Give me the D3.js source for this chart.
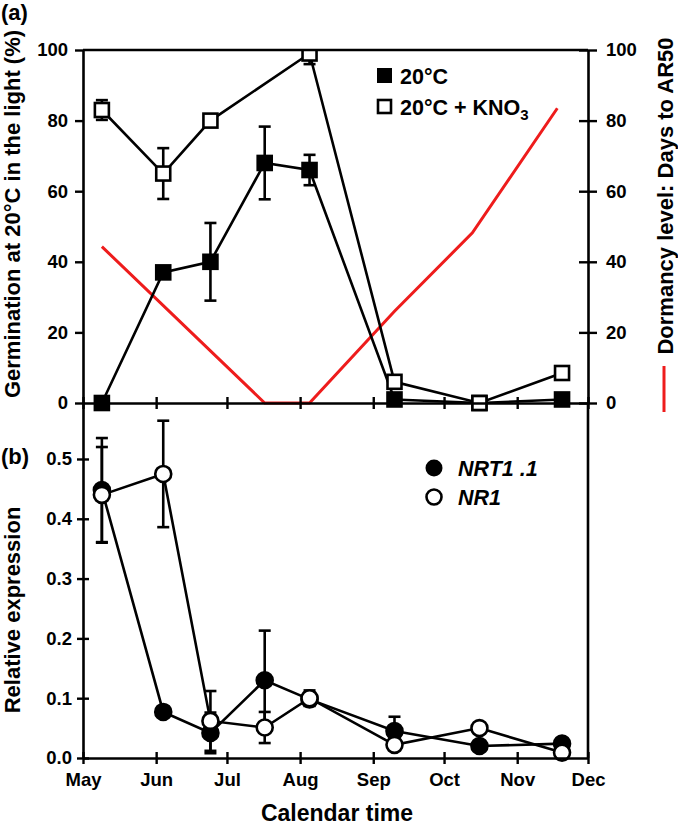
<!DOCTYPE html>
<html>
<head>
<meta charset="utf-8">
<title>Germination and dormancy</title>
<script src="https://cdn.jsdelivr.net/npm/d3@7"></script>
<style>
  body { margin: 0; background: #fff; }
  text { font-family: "Liberation Sans", Arial, sans-serif; font-weight: bold; fill: #000; }
</style>
</head>
<body>
<div id="chart"></div>
<script>
// sampling dates (x positions) and values
var dates = ["2010-05-09", "2010-06-04", "2010-06-24", "2010-07-17", "2010-08-05", "2010-09-10", "2010-10-16", "2010-11-20"];
var monthTicks = ["2010-05-01", "2010-06-01", "2010-07-01", "2010-08-01", "2010-09-01", "2010-10-01", "2010-11-01", "2010-12-01"];

// (a) germination %
var germ20 = [0, 37, 40, 68, 66, 1, 0, 1];
var germ20Err = [0, 0, 11, 10.3, 4.3, 0, 0, 0];
var kno3Dates = ["2010-05-09", "2010-06-04", "2010-06-24", "2010-08-05", "2010-09-10", "2010-10-16", "2010-11-20"];
var germKNO3 = [83, 65, 80, 99, 6, 0, 8.5];
var germKNO3Err = [2.8, 7.2, 0, 3, 0, 0, 0];

// dormancy level (days to AR50), right axis
var dormDates = ["2010-05-09", "2010-07-17", "2010-08-05", "2010-09-10", "2010-10-13", "2010-11-18"];
var dormDays = [44.3, 0, 0, 26, 48.2, 83.5];

// (b) relative expression
var nrt = [0.448, 0.077, 0.042, 0.13, 0.098, 0.045, 0.02, 0.024];
var nrtErr = [0.087, 0, 0.034, 0.083, 0.01, 0.024, 0, 0];
var nr1 = [0.44, 0.475, 0.062, 0.051, 0.1, 0.022, 0.05, 0.009];
var nr1Err = [0.08, 0.089, 0.05, 0.026, 0.013, 0, 0.008, 0];

var parse = d3.timeParse("%Y-%m-%d");
var W = 678, H = 825;
var L = 83, R = 588, topA = 50, midY = 403, botB = 758;
var SW = 2.6;

var svg = d3.select("#chart").append("svg").attr("width", W).attr("height", H);

var x = d3.scaleTime().domain([parse("2010-05-01"), parse("2010-12-01")]).range([L, R]);
var yA = d3.scaleLinear().domain([0, 100]).range([midY, topA]);
var yB = d3.scaleLinear().domain([0, 0.5936]).range([botB, midY]);

function zip(ds, vs, es) {
  return ds.map(function(d, i) { return {date: parse(d), v: vs[i], e: es ? es[i] : 0}; });
}

svg.append("clipPath").attr("id", "clipA").append("rect")
  .attr("x", L - 20).attr("y", topA).attr("width", R - L + 40).attr("height", midY - topA + 20);

// ---------- panel (a) ----------
var gA = svg.append("g").attr("clip-path", "url(#clipA)");

gA.append("path")
  .datum(zip(dormDates, dormDays))
  .attr("fill", "none").attr("stroke", "#ee1c1c").attr("stroke-width", 3)
  .attr("d", d3.line().x(function(d) { return x(d.date); }).y(function(d) { return yA(d.v); }));

function series(g, data, y, filled, shape) {
  var line = d3.line().x(function(d) { return x(d.date); }).y(function(d) { return y(d.v); });
  g.append("path").datum(data).attr("fill", "none").attr("stroke", "#000").attr("stroke-width", SW).attr("d", line);
  var eb = g.append("g").selectAll("g").data(data.filter(function(d) { return d.e > 0; })).enter().append("g");
  eb.append("line")
    .attr("x1", function(d) { return x(d.date); }).attr("x2", function(d) { return x(d.date); })
    .attr("y1", function(d) { return y(d.v - d.e); }).attr("y2", function(d) { return y(d.v + d.e); })
    .attr("stroke", "#000").attr("stroke-width", SW);
  [-1, 1].forEach(function(s) {
    eb.append("line")
      .attr("x1", function(d) { return x(d.date) - 6; }).attr("x2", function(d) { return x(d.date) + 6; })
      .attr("y1", function(d) { return y(d.v + s * d.e); }).attr("y2", function(d) { return y(d.v + s * d.e); })
      .attr("stroke", "#000").attr("stroke-width", SW);
  });
  var m = g.append("g").selectAll(".m").data(data).enter();
  if (shape == "square") {
    m.append("rect")
      .attr("x", function(d) { return x(d.date) - 7; }).attr("y", function(d) { return y(d.v) - 7; })
      .attr("width", 14).attr("height", 14)
      .attr("fill", filled ? "#000" : "#fff").attr("stroke", "#000").attr("stroke-width", SW);
  } else {
    m.append("circle")
      .attr("cx", function(d) { return x(d.date); }).attr("cy", function(d) { return y(d.v); })
      .attr("r", 8)
      .attr("fill", filled ? "#000" : "#fff").attr("stroke", "#000").attr("stroke-width", SW);
  }
}

series(gA, zip(dates, germ20, germ20Err), yA, true, "square");
series(gA, zip(kno3Dates, germKNO3, germKNO3Err), yA, false, "square");

// ---------- panel (b) ----------
var gB = svg.append("g");
series(gB, zip(dates, nrt, nrtErr), yB, true, "circle");
series(gB, zip(dates, nr1, nr1Err), yB, false, "circle");

// ---------- axes ----------
function styleAxis(g) {
  g.selectAll("path").attr("stroke", "#000").attr("stroke-width", SW);
  g.selectAll("line").attr("stroke", "#000").attr("stroke-width", 2.4);
  g.selectAll("text").attr("font-size", 18.5).attr("font-family", "Liberation Sans, Arial, sans-serif").attr("font-weight", "bold").attr("fill", "#000");
}

var axA = svg.append("g").attr("transform", "translate(" + L + ",0)")
  .call(d3.axisLeft(yA).tickValues([0, 20, 40, 60, 80, 100]).tickSizeInner(8).tickSizeOuter(0).tickPadding(7));
styleAxis(axA);

var axAR = svg.append("g").attr("transform", "translate(" + R + ",0)")
  .call(d3.axisRight(yA).tickValues([0, 20, 40, 60, 80, 100]).tickSizeInner(9).tickSizeOuter(0).tickPadding(9));
styleAxis(axAR);
axAR.selectAll(".tick line").attr("x1", -9);

var months = monthTicks.map(parse);
var axAX = svg.append("g").attr("transform", "translate(0," + midY + ")")
  .call(d3.axisBottom(x).tickValues(months).tickFormat("").tickSizeInner(6).tickSizeOuter(0));
styleAxis(axAX);
axAX.selectAll(".tick line").attr("y1", -6);

svg.append("line").attr("x1", L).attr("x2", R).attr("y1", topA).attr("y2", topA)
  .attr("stroke", "#000").attr("stroke-width", SW);

var axB = svg.append("g").attr("transform", "translate(" + L + ",0)")
  .call(d3.axisLeft(yB).tickValues([0, 0.1, 0.2, 0.3, 0.4, 0.5]).tickFormat(d3.format(".1f")).tickSizeInner(6).tickSizeOuter(0).tickPadding(5));
styleAxis(axB);
axB.selectAll(".tick line").attr("x1", 6).attr("x2", -6);

var axBX = svg.append("g").attr("transform", "translate(0," + botB + ")")
  .call(d3.axisBottom(x).tickValues(months).tickFormat(d3.timeFormat("%b")).tickSizeInner(6).tickSizeOuter(0).tickPadding(9));
styleAxis(axBX);
axBX.selectAll(".tick line").attr("y1", -6);
axBX.selectAll(".tick text").attr("dy", "0.71em");

svg.append("line").attr("x1", R).attr("x2", R).attr("y1", midY).attr("y2", botB)
  .attr("stroke", "#000").attr("stroke-width", SW);

// ---------- titles ----------
svg.append("text").attr("x", 1).attr("y", 20).attr("font-size", 22).text("(a)");
svg.append("text").attr("x", 1).attr("y", 464).attr("font-size", 22).text("(b)");

svg.append("text").attr("transform", "translate(20,214) rotate(-90)")
  .attr("text-anchor", "middle").attr("font-size", 22).text("Germination at 20°C in the light (%)");
svg.append("text").attr("transform", "translate(20,610) rotate(-90)")
  .attr("text-anchor", "middle").attr("font-size", 22).text("Relative expression");
svg.append("text").attr("transform", "translate(673,196) rotate(-90)")
  .attr("text-anchor", "middle").attr("font-size", 22).text("Dormancy level: Days to AR50");
svg.append("line").attr("x1", 664).attr("x2", 664).attr("y1", 366).attr("y2", 412)
  .attr("stroke", "#ee1c1c").attr("stroke-width", 3);

svg.append("text").attr("x", 337).attr("y", 821).attr("text-anchor", "middle").attr("font-size", 23).text("Calendar time");

// ---------- legends ----------
svg.append("rect").attr("x", 377).attr("y", 68).attr("width", 15).attr("height", 15).attr("fill", "#000");
svg.append("text").attr("x", 400).attr("y", 84).attr("font-size", 21.5).text("20°C");
svg.append("rect").attr("x", 378).attr("y", 100).attr("width", 13).attr("height", 13)
  .attr("fill", "#fff").attr("stroke", "#000").attr("stroke-width", SW);
var kt = svg.append("text").attr("x", 400).attr("y", 115).attr("font-size", 21.5);
kt.append("tspan").text("20°C + KNO");
kt.append("tspan").attr("font-size", 15).attr("dy", 5).text("3");

svg.append("circle").attr("cx", 434).attr("cy", 468).attr("r", 8.5).attr("fill", "#000");
svg.append("text").attr("x", 458).attr("y", 476).attr("font-size", 21.5).attr("font-style", "italic").text("NRT1 .1");
svg.append("circle").attr("cx", 434).attr("cy", 497).attr("r", 7.5).attr("fill", "#fff").attr("stroke", "#000").attr("stroke-width", SW);
svg.append("text").attr("x", 458).attr("y", 505).attr("font-size", 21.5).attr("font-style", "italic").text("NR1");
</script>
</body>
</html>
